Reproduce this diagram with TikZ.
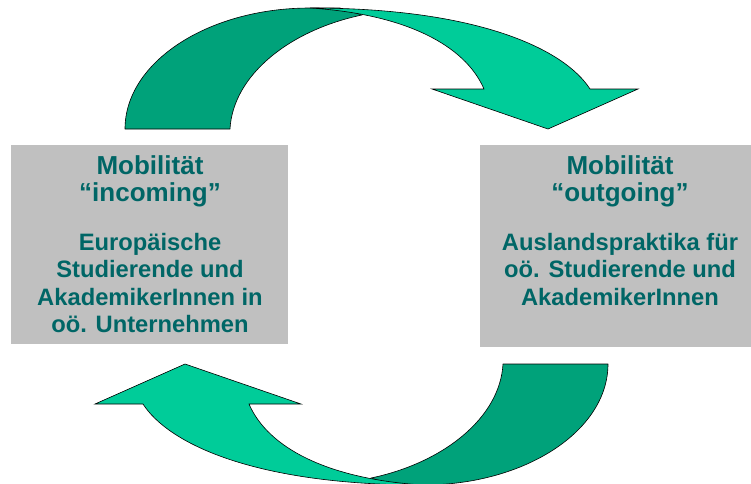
\documentclass[tikz,border=0pt]{standalone}
\usepackage{fontspec}
\setmainfont{Liberation Sans}
\definecolor{darkgreen}{RGB}{0,162,122}
\definecolor{lightgreen}{RGB}{0,204,153}
\definecolor{boxgray}{RGB}{192,192,192}
\definecolor{textteal}{RGB}{0,102,102}
\tikzset{
  darkpart/.style={fill=darkgreen,draw=black,line width=0.45pt,line join=round},
  lightpart/.style={fill=lightgreen,draw=black,line width=0.45pt,line join=miter},
  infobox/.style={fill=boxgray,draw=none,inner sep=0pt,anchor=center},
  titleline/.style={text=textteal,anchor=base,inner sep=0pt,font=\fontsize{19.5}{21}\selectfont\bfseries},
  bodyline/.style={text=textteal,anchor=base,inner sep=0pt,font=\fontsize{17.8}{20}\selectfont\bfseries},
}
\newcommand\curvedarrowshape{%
  \filldraw[darkpart] (125,129) .. controls (125,62.2) and (207.9,8) .. (310,8)
     -- (340,8) -- (362,15) .. controls (290,30) and (233,75) .. (230,129) -- cycle;
  \filldraw[lightpart] (310,8) .. controls (480,8) and (565,50) .. (590,89)
     -- (638,89) -- (548,129) -- (432,89) -- (484,89)
     .. controls (465,45) and (405,14) .. (310,8) -- cycle;
}
\begin{document}
\begin{tikzpicture}[x=0.75pt,y=-0.75pt]
\useasboundingbox (0,0) rectangle (751,483);
\clip (0,0) rectangle (751,483);
\fill[white] (0,0) rectangle (751,483);
% top curved arrow
\curvedarrowshape
% bottom curved arrow (same shape turned half round)
\begin{scope}[rotate around={180:(366.5,246.5)}]
\curvedarrowshape
\end{scope}
% boxes
\node[infobox,minimum width=207.75pt,minimum height=149.25pt] (leftbox) at (149.5,244.5) {};
\node[infobox,minimum width=210pt,minimum height=151.5pt] (rightbox) at (620,246) {};
% left texts
\node[titleline] (l1) at (150,174) {Mobilität};
\node[titleline] (l2) at (150,201.7) {“incoming”};
\node[bodyline] (l3) at (150,250) {Europäische};
\node[bodyline] (l4) at (150,277.5) {Studierende und};
\node[bodyline] (l5) at (150,305) {AkademikerInnen in};
\node[bodyline] (l6) at (150,332.5) {oö. Unternehmen};
% right texts
\node[titleline] (r1) at (620,174) {Mobilität};
\node[titleline] (r2) at (620,201.7) {“outgoing”};
\node[bodyline] (r3) at (620,250) {Auslandspraktika für};
\node[bodyline] (r4) at (620,277.5) {oö. Studierende und};
\node[bodyline] (r5) at (620,305) {AkademikerInnen};
\end{tikzpicture}
\end{document}
